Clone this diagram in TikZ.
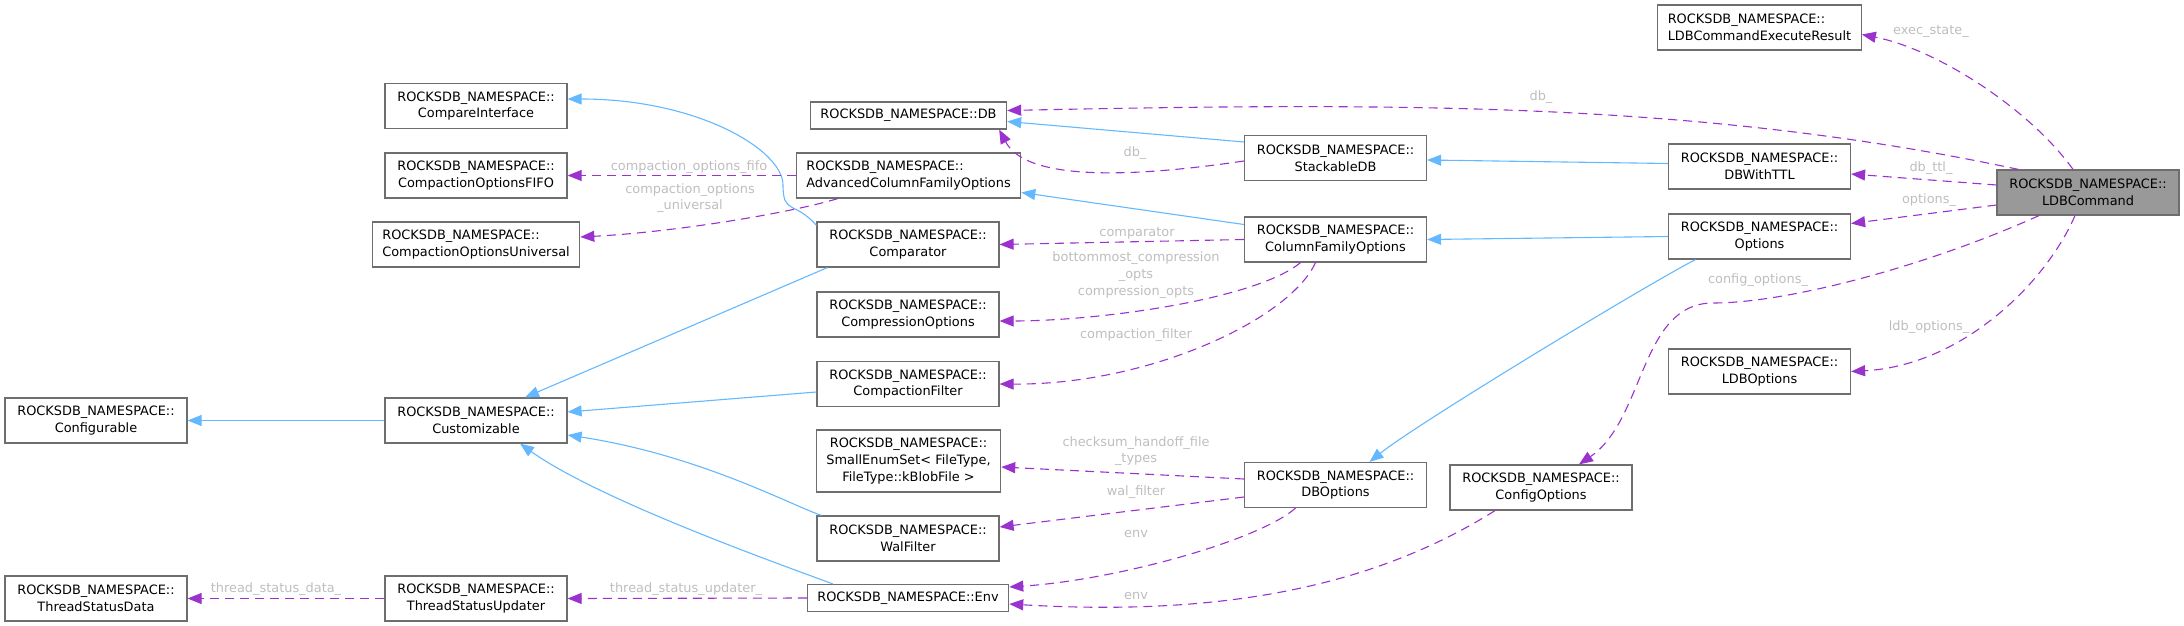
\documentclass[tikz,border=0pt]{standalone}
\usepackage{fontspec}
\setmainfont{DejaVu Sans}
\usetikzlibrary{arrows.meta}
\definecolor{inhblue}{RGB}{99,184,255}
\definecolor{usepurple}{RGB}{154,50,205}
\definecolor{boxgray}{RGB}{110,110,110}
\definecolor{lblgray}{RGB}{190,190,190}
\definecolor{mainfill}{RGB}{153,153,153}
\begin{document}
\begin{tikzpicture}[x=1pt, y=-1pt,
    cls/.style={draw=boxgray, line width=1.2pt, minimum width=182pt, minimum height=45pt,
      inner xsep=10pt, inner ysep=2pt, font=\fontsize{12.9}{16.7}\selectfont, align=center},
    cls1/.style={cls, minimum height=27pt},
    lbl/.style={text=lblgray, font=\fontsize{12.9}{16.7}\selectfont, align=center, inner sep=0pt},
    inh/.style={draw=inhblue, line width=1.1pt, -{Triangle[length=14pt, width=11pt]}},
    member/.style={draw=usepurple, line width=1.1pt, dash pattern=on 9pt off 6pt,
      -{Triangle[length=14pt, width=11pt]}},
  ]
    \useasboundingbox (0,0) rectangle (2184,626);

    \node[cls, align=left] (execres) at (1759.5,27.5) {ROCKSDB\_NAMESPACE::\\LDBCommandExecuteResult};
    \node[cls1] (db) at (908.5,115.5) {ROCKSDB\_NAMESPACE::DB};
    \node[cls] (cmpif) at (476,106) {ROCKSDB\_NAMESPACE::\\CompareInterface};
    \node[cls] (fifo) at (476,175.5) {ROCKSDB\_NAMESPACE::\\CompactionOptionsFIFO};
    \node[cls, align=left] (advcfo) at (908.5,175.5) {ROCKSDB\_NAMESPACE::\\AdvancedColumnFamilyOptions};
    \node[cls, align=left] (univ) at (476,244.5) {ROCKSDB\_NAMESPACE::\\CompactionOptionsUniversal};
    \node[cls] (comparator) at (908,244.5) {ROCKSDB\_NAMESPACE::\\Comparator};
    \node[cls] (stackdb) at (1335.5,158) {ROCKSDB\_NAMESPACE::\\StackableDB};
    \node[cls] (cfo) at (1335.5,239.5) {ROCKSDB\_NAMESPACE::\\ColumnFamilyOptions};
    \node[cls] (compress) at (908,314.5) {ROCKSDB\_NAMESPACE::\\CompressionOptions};
    \node[cls] (compfilter) at (908,384) {ROCKSDB\_NAMESPACE::\\CompactionFilter};
    \node[cls, minimum height=62pt] (smallenum) at (908.5,461) {ROCKSDB\_NAMESPACE::\\SmallEnumSet< FileType,\\FileType::kBlobFile >};
    \node[cls] (walfilter) at (908,538.5) {ROCKSDB\_NAMESPACE::\\WalFilter};
    \node[cls1] (env) at (908,598) {ROCKSDB\_NAMESPACE::Env};
    \node[cls] (dbttl) at (1759.5,166.5) {ROCKSDB\_NAMESPACE::\\DBWithTTL};
    \node[cls, fill=mainfill] (ldbcmd) at (2088,192.5) {ROCKSDB\_NAMESPACE::\\LDBCommand};
    \node[cls] (options) at (1759.5,236.5) {ROCKSDB\_NAMESPACE::\\Options};
    \node[cls] (ldbopts) at (1759.5,371.5) {ROCKSDB\_NAMESPACE::\\LDBOptions};
    \node[cls] (dbopts) at (1335.5,485) {ROCKSDB\_NAMESPACE::\\DBOptions};
    \node[cls] (cfgopts) at (1541,487.5) {ROCKSDB\_NAMESPACE::\\ConfigOptions};
    \node[cls] (configurable) at (96,420.5) {ROCKSDB\_NAMESPACE::\\Configurable};
    \node[cls] (customizable) at (476,420.5) {ROCKSDB\_NAMESPACE::\\Customizable};
    \node[cls] (tsdata) at (96,598.5) {ROCKSDB\_NAMESPACE::\\ThreadStatusData};
    \node[cls] (tsupd) at (476,598.5) {ROCKSDB\_NAMESPACE::\\ThreadStatusUpdater};

    % inheritance
    \draw[inh] ([yshift=16pt]stackdb.west) -- ([yshift=-6pt]db.east);
    \draw[inh] ([yshift=3pt]dbttl.west) -- ([yshift=-2pt]stackdb.east);
    \draw[inh] (options.west) -- (cfo.east);
    \draw[inh] ([xshift=-64pt]options.south) .. controls +(-40,20) and +(50,-40) .. ([xshift=34pt]dbopts.north);
    \draw[inh] ([yshift=15pt]cfo.west) -- ([yshift=-17pt]advcfo.east);
    \draw[inh] ([yshift=-4pt]comparator.north west) .. controls +(-22,-25) and +(0,30) .. (783,185)
      .. controls +(0,-35) and +(130,0) .. ([yshift=7pt]cmpif.east);
    \draw[inh] ([xshift=11pt]comparator.south west) -- ([xshift=49pt]customizable.north);
    \draw[inh] ([yshift=-8pt]compfilter.west) -- ([yshift=8.5pt]customizable.east);
    \draw[inh] ([xshift=5pt]walfilter.north west) .. controls +(-32,-11) and +(131,20) .. ([yshift=-14.5pt]customizable.east);
    \draw[inh] ([xshift=26pt]env.north west) .. controls +(-51,-19) and +(80,57) .. ([xshift=44pt]customizable.south);
    \draw[inh] (customizable.west) -- (configurable.east);

    % members
    \draw[member] ([xshift=-15pt]ldbcmd.north) .. controls +(-43,-60) and +(76,15) .. ([yshift=-7pt]execres.east);
    \draw[member] ([xshift=22pt]ldbcmd.north west) .. controls +(-319,-68) and +(390,-8) .. ([yshift=5pt]db.east);
    \draw[member] ([yshift=7.5pt]ldbcmd.west) -- ([yshift=-7.5pt]dbttl.east);
    \draw[member] ([yshift=-12.5pt]ldbcmd.west) -- ([yshift=13pt]options.east);
    \draw[member] ([xshift=-49pt]ldbcmd.south) .. controls +(-109,49) and +(77,0) .. (1713,303)
      .. controls +(-73,0) and +(66,-45) .. ([xshift=38pt]cfgopts.north);
    \draw[member] ([xshift=-13pt]ldbcmd.south) .. controls +(-30,69) and +(110,-6) .. (ldbopts.east);
    \draw[member] ([yshift=-3pt]stackdb.west) .. controls +(-95,14) and +(29,55) .. ([xshift=-8pt]db.south east);
    \draw[member] (advcfo.west) -- (fifo.east);
    \draw[member] ([xshift=42pt]advcfo.south west) .. controls +(-46,14) and +(96,-5) .. ([yshift=7.5pt]univ.east);
    \draw[member] (cfo.west) -- (comparator.east);
    \draw[member] ([xshift=-35pt]cfo.south) .. controls +(-45,37) and +(99,0) .. ([yshift=-6.5pt]compress.east);
    \draw[member] ([xshift=-20pt]cfo.south) .. controls +(-26,57) and +(149,1) .. (compfilter.east);
    \draw[member] ([yshift=6pt]dbopts.west) -- ([yshift=-6pt]smallenum.east);
    \draw[member] ([yshift=-12pt]dbopts.west) -- ([yshift=11.5pt]walfilter.east);
    \draw[member] ([xshift=-40pt]dbopts.south) .. controls +(-36,32) and +(108,-7) .. ([yshift=11pt]env.east);
    \draw[member] ([xshift=-46pt]cfgopts.south) .. controls +(-135,85) and +(188,11) .. ([yshift=-6pt]env.east);
    \draw[member] (env.west) -- (tsupd.east);
    \draw[member] (tsupd.west) -- (tsdata.east);

    \node[lbl] (l-exec) at (1931,31) {exec\_state\_};
    \node[lbl] (l-db1) at (1541,97) {db\_};
    \node[lbl] (l-ttl) at (1931,168) {db\_ttl\_};
    \node[lbl] (l-opt) at (1929,200) {options\_};
    \node[lbl] (l-cfg) at (1758,280) {config\_options\_};
    \node[lbl] (l-ldb) at (1929,327) {ldb\_options\_};
    \node[lbl] (l-db2) at (1135,153) {db\_};
    \node[lbl] (l-fifo) at (689,167) {compaction\_options\_fifo};
    \node[lbl] (l-univ) at (690,198) {compaction\_options\\\_universal};
    \node[lbl] (l-cmp) at (1137,233) {comparator};
    \node[lbl] (l-compr) at (1136,275) {bottommost\_compression\\\_opts\\compression\_opts};
    \node[lbl] (l-cflt) at (1136,335) {compaction\_filter};
    \node[lbl] (l-csum) at (1136,451) {checksum\_handoff\_file\\\_types};
    \node[lbl] (l-wal) at (1136,492) {wal\_filter};
    \node[lbl] (l-env1) at (1136,534) {env};
    \node[lbl] (l-env2) at (1136,596) {env};
    \node[lbl] (l-tsd) at (276,589) {thread\_status\_data\_};
    \node[lbl] (l-tsu) at (686,589) {thread\_status\_updater\_};
\end{tikzpicture}
\end{document}
